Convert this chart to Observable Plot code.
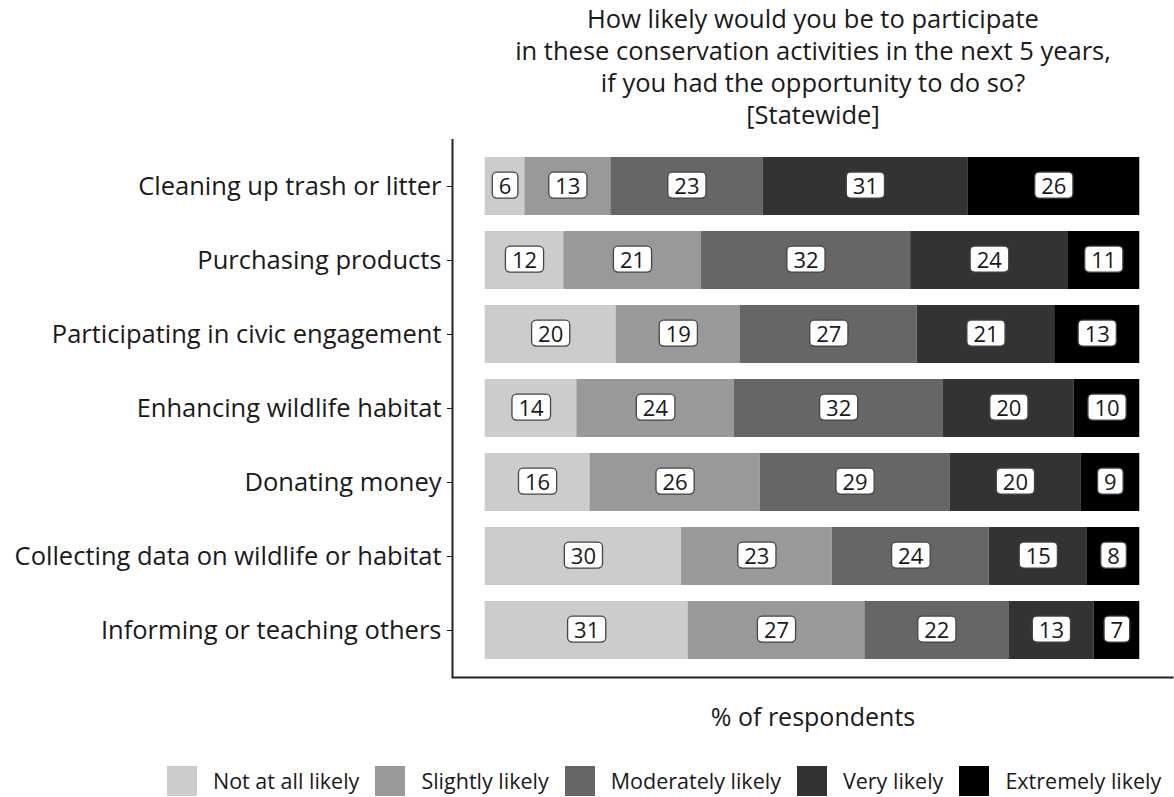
<!DOCTYPE html>
<html>
<head>
<meta charset="utf-8">
<script src="https://cdn.jsdelivr.net/npm/d3@7"></script>
<script src="https://cdn.jsdelivr.net/npm/@observablehq/plot@0.6"></script>
<style>
  html, body { margin: 0; padding: 0; background: #fff; }
  body { width: 1174px; height: 797px; overflow: hidden; font-family: "Open Sans", sans-serif; color: #1a1a1a; position: relative; }
  #title { box-sizing: border-box; height: 135px; padding-top: 2px; padding-left: 452px; width: 1174px; text-align: center; font-size: 25.5px; line-height: 32px; }
  #xlabel { box-sizing: border-box; height: 40px; padding-left: 452px; width: 1174px; text-align: center; font-size: 25px; line-height: 32px; padding-top: 5px; }
  #legend { position: absolute; left: 167px; top: 766px; width: 1100px; display: flex; align-items: center; font-size: 21.5px; line-height: 30px; white-space: nowrap; }
  .item { display: flex; align-items: center; margin-right: 16px; flex: none; white-space: nowrap; }
  .sw { width: 30px; height: 30px; margin-right: 16px; flex: none; }
  svg text { fill: #1a1a1a; }
</style>
</head>
<body>
<div id="title">How likely would you be to participate<br>in these conservation activities in the next 5 years,<br>if you had the opportunity to do so?<br>[Statewide]</div>
<div id="chart"></div>
<div id="xlabel">% of respondents</div>
<div id="legend"></div>
<script>
const activities = [
  "Cleaning up trash or litter",
  "Purchasing products",
  "Participating in civic engagement",
  "Enhancing wildlife habitat",
  "Donating money",
  "Collecting data on wildlife or habitat",
  "Informing or teaching others"
];
const levels = ["Not at all likely", "Slightly likely", "Moderately likely", "Very likely", "Extremely likely"];
const grays = ["#cccccc", "#999999", "#666666", "#333333", "#000000"];

const notAtAll   = [6, 12, 20, 14, 16, 30, 31];
const slightly   = [13, 21, 19, 24, 26, 23, 27];
const moderately = [23, 32, 27, 32, 29, 24, 22];
const very       = [31, 24, 21, 20, 20, 15, 13];
const extremely  = [26, 11, 13, 10, 9, 8, 7];

const series = [notAtAll, slightly, moderately, very, extremely];
const data = [];
activities.forEach((a, i) => {
  levels.forEach((l, j) => data.push({activity: a, level: l, value: series[j][i]}));
});

const stackOpts = {x: "value", y: "activity", z: "level", order: levels, offset: "normalize"};

const svg = Plot.plot({
  width: 1174,
  height: 560,
  marginLeft: 452,
  marginRight: 2,
  marginTop: 4,
  marginBottom: 18,
  x: {domain: [-0.05, 1.05], axis: null},
  y: {domain: activities, padding: 0.21, label: null, tickSize: 5, tickPadding: 6},
  color: {domain: levels, range: grays},
  style: {fontFamily: "Open Sans", fontSize: "25.5px", color: "#1a1a1a", background: "#fff"},
  marks: [
    Plot.barX(data, Plot.stackX({...stackOpts, fill: "level"})),
    Plot.text(data, Plot.stackX({...stackOpts, text: d => String(d.value), fontSize: 22, fill: "#111", className: "lbl"})),
    Plot.ruleX([-0.05], {stroke: "#222", strokeWidth: 2}),
    Plot.frame({anchor: "bottom", stroke: "#222", strokeWidth: 2})
  ]
});
document.getElementById("chart").appendChild(svg);

// white rounded label boxes behind the value texts
const texts = svg.querySelectorAll('g[aria-label="text"] text');
texts.forEach(t => {
  const b = t.getBBox();
  const cy = b.y + b.height / 2 + 0.5;
  const h = 26;
  const r = document.createElementNS("http://www.w3.org/2000/svg", "rect");
  r.setAttribute("x", b.x - 6.5);
  r.setAttribute("y", cy - h / 2);
  r.setAttribute("width", b.width + 13);
  r.setAttribute("height", h);
  r.setAttribute("rx", 4.5);
  r.setAttribute("fill", "#fff");
  r.setAttribute("stroke", "#444");
  r.setAttribute("stroke-width", 1.3);
  if (t.getAttribute("transform")) r.setAttribute("transform", t.getAttribute("transform"));
  t.parentNode.insertBefore(r, t);
});

const legend = document.getElementById("legend");
levels.forEach((l, i) => {
  const it = document.createElement("div");
  it.className = "item";
  const sw = document.createElement("div");
  sw.className = "sw";
  sw.style.background = grays[i];
  const lab = document.createElement("span");
  lab.textContent = l;
  it.appendChild(sw);
  it.appendChild(lab);
  legend.appendChild(it);
});
</script>
</body>
</html>
